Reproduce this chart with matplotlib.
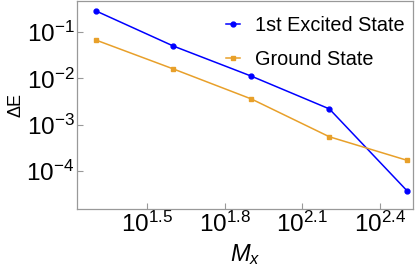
import matplotlib
matplotlib.use("Agg")
import matplotlib.pyplot as plt
from matplotlib.ticker import FixedLocator, FuncFormatter, NullLocator

plt.rcParams["font.family"] = ["Liberation Sans", "DejaVu Sans"]
plt.rcParams["mathtext.fontset"] = "custom"
plt.rcParams["mathtext.rm"] = "Liberation Sans"
plt.rcParams["mathtext.it"] = "Liberation Sans:italic"

# data
mx = [20, 40, 80, 160, 320]
excited = [0.29, 0.050, 0.0112, 0.0022, 3.7e-5]
ground = [0.068, 0.016, 0.0036, 5.5e-4, 1.7e-4]

x_exponents = [1.5, 1.8, 2.1, 2.4]
y_exponents = [-1, -2, -3, -4]

fig = plt.figure(figsize=(4.15, 2.75), dpi=100)
ax = fig.add_axes([0.186, 0.24, 0.809, 0.758])

ax.plot(mx, excited, "o-", color="#0000ff", lw=1.1, ms=3.5, label="1st Excited State")
ax.plot(mx, ground, "s-", color="#e8a02a", lw=1.1, ms=3.5, label="Ground State")

ax.set_xscale("log")
ax.set_yscale("log")
ax.set_xlim(10 ** 1.23, 10 ** 2.527)
ax.set_ylim(10 ** -4.82, 10 ** -0.317)

ax.xaxis.set_major_locator(FixedLocator([10 ** e for e in x_exponents]))
ax.xaxis.set_minor_locator(NullLocator())
ax.xaxis.set_major_formatter(FuncFormatter(
    lambda v, p: r"$\mathregular{10^{%s}}$" % x_exponents[p]))
ax.yaxis.set_major_locator(FixedLocator([10.0 ** e for e in y_exponents]))
ax.yaxis.set_minor_locator(NullLocator())
ax.yaxis.set_major_formatter(FuncFormatter(
    lambda v, p: r"$\mathregular{10^{%d}}$" % y_exponents[p]))

ax.tick_params(direction="in", length=4, width=0.8, color="#999999",
               labelsize=17.5, pad=2)
for sp in ax.spines.values():
    sp.set_color("#999999")
    sp.set_linewidth(0.9)

ax.set_ylabel("ΔE", fontsize=13, labelpad=1)
ax.set_xlabel(r"$M_x$", fontsize=17, labelpad=4)

ax.legend(loc="upper right", frameon=False, fontsize=14.3, handlelength=0.75,
          handletextpad=0.75, labelspacing=0.75, borderaxespad=0.0,
          bbox_to_anchor=(1.0, 0.965))

fig.savefig("out.png", dpi=100)
